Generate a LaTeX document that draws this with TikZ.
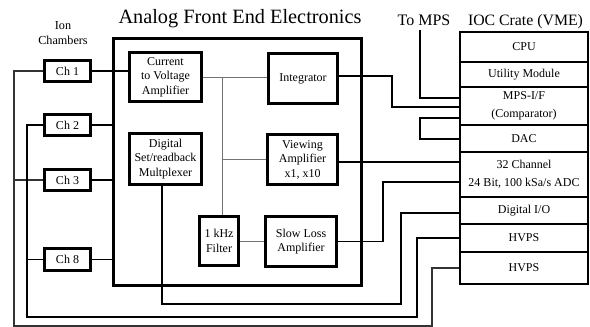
\documentclass[tikz,border=0pt]{standalone}
\usepackage{fontspec}
\setmainfont{Liberation Serif}
\begin{document}
\begin{tikzpicture}[x=1pt,y=-1pt,
  afebox/.style={draw, line width=2.6pt, align=center, inner sep=0pt, font=\fontsize{12}{14.5}\selectfont},
  chbox/.style={draw, line width=2.6pt, inner sep=0pt, minimum width=46.5pt, minimum height=21.5pt, font=\fontsize{12}{14}\selectfont},
  iocrow/.style={draw, line width=1.6pt, inner sep=0pt, minimum width=128.5pt, align=center, font=\fontsize{12}{17.5}\selectfont},
  wire/.style={line width=1.8pt},
  inbus/.style={line width=1pt, black!55},
  lbl/.style={inner sep=0pt, align=center}]
\useasboundingbox (0,0) rectangle (590,327);

% titles
\node[lbl, font=\fontsize{20.3}{24}\selectfont, anchor=base] (title) at (240,23.5) {Analog Front End Electronics};
\node[lbl, font=\fontsize{15.8}{19}\selectfont, anchor=base] (ioctitle) at (525.5,25) {IOC Crate (VME)};
\node[lbl, font=\fontsize{16}{19}\selectfont, anchor=base] (tomps) at (424,25) {To MPS};
\node[lbl, font=\fontsize{12.2}{15}\selectfont] (ionlbl) at (63,33.5) {Ion\\Chambers};

% AFE outer box
\node[draw, line width=3pt, inner sep=0pt, minimum width=248pt, minimum height=247pt] (afe) at (237.5,162) {};

% AFE inner boxes
\node[afebox, minimum width=72.4pt, minimum height=49.4pt] (ctv) at (165.5,77) {Current\\to Voltage\\Amplifier};
\node[afebox, minimum width=69.4pt, minimum height=50.4pt] (integ) at (303,78.5) {Integrator};
\node[afebox, minimum width=72.4pt, minimum height=51.4pt] (mux) at (165.5,159) {Digital\\Set/readback\\Multplexer};
\node[afebox, minimum width=70.4pt, minimum height=50.4pt] (view) at (302.5,159.5) {Viewing\\Amplifier\\x1, x10};
\node[afebox, minimum width=39.4pt, minimum height=49.4pt] (filter) at (219,241) {1 kHz\\Filter};
\node[afebox, minimum width=71.4pt, minimum height=50.4pt] (slow) at (301,241.5) {Slow Loss\\Amplifier};

% ion chambers
\node[chbox] (ch1) at (67.5,71) {Ch 1};
\node[chbox] (ch2) at (67.5,125) {Ch 2};
\node[chbox] (ch3) at (67.5,180) {Ch 3};
\node[chbox] (ch8) at (67.5,259.5) {Ch 8};

% IOC crate
\node[iocrow, minimum height=30pt] (cpu) at (524,47) {CPU};
\node[iocrow, minimum height=25pt] (util) at (524,74.5) {Utility Module};
\node[iocrow, minimum height=38pt] (mps) at (524,106) {MPS-I/F\\(Comparator)};
\node[iocrow, minimum height=27pt] (dac) at (524,138.5) {DAC};
\node[iocrow, minimum height=45pt] (adc) at (524,174.5) {32 Channel\\24 Bit, 100 kSa/s ADC};
\node[iocrow, minimum height=27pt] (dio) at (524,210.5) {Digital I/O};
\node[iocrow, minimum height=28pt] (hv1) at (524,238) {HVPS};
\node[iocrow, minimum height=32pt] (hv2) at (524,268) {HVPS};

% internal bus
\coordinate (bustop) at (222,77);
\draw[inbus] (ctv.east) -- (integ.west |- ctv.east);
\draw[inbus] (bustop) -- (filter.north -| bustop);
\draw[inbus] (bustop |- view.west) -- (view.west);
\draw[inbus] (filter.east) -- (slow.west |- filter.east);

% chamber connections
\draw[wire] (ch1.east) -- (ctv.west |- ch1.east);
\draw[wire] (ch2.east) -- (afe.west |- ch2.east);
\draw[wire] (ch3.east) -- (afe.west |- ch3.east);
\draw[wire] (ch8.east) -- (afe.west |- ch8.east);

% HV buses
\coordinate (b1) at (14,326);
\coordinate (h2) at (432,268);
\draw[line width=1.5pt, black!80] (ch1.west) -| (b1) -| (h2) -- (hv2.west);
\draw[line width=1.5pt, black!80] (ch3.west) -- (b1 |- ch3.west);
\coordinate (b2) at (27,317);
\coordinate (h1) at (417,238);
\draw[wire] (ch2.west) -| (b2) -| (h1) -- (hv1.west);
\draw[wire] (ch8.west) -- (b2 |- ch8.west);

% multiplexer to digital I/O
\coordinate (m1) at (162,304);
\coordinate (m2) at (401,304);
\coordinate (m3) at (401,213);
\draw[wire] (mux.south -| m1) -- (m1) -- (m2) -- (m3) -- (dio.west |- m3);

% integrator to MPS-I/F
\coordinate (c1) at (392,76);
\coordinate (c2) at (392,107);
\draw[wire] (integ.east |- c1) -- (c1) -- (c2) -- (mps.west |- c2);

% To MPS
\coordinate (t0) at (420,30);
\coordinate (t1) at (420,98);
\draw[wire] (t0) -- (t1) -- (mps.west |- t1);

% MPS-I/F to DAC loop
\coordinate (d1) at (420,118);
\coordinate (d2) at (420,139);
\draw[wire] (mps.west |- d1) -- (d1) -- (d2) -- (dac.west |- d2);

% viewing amp to ADC
\coordinate (v1) at (339,162);
\draw[wire] (view.east |- v1) -- (adc.west |- v1);

% slow loss to ADC
\coordinate (s1) at (383,182);
\draw[wire] (slow.east) -| (s1) -- (adc.west |- s1);
\end{tikzpicture}
\end{document}
